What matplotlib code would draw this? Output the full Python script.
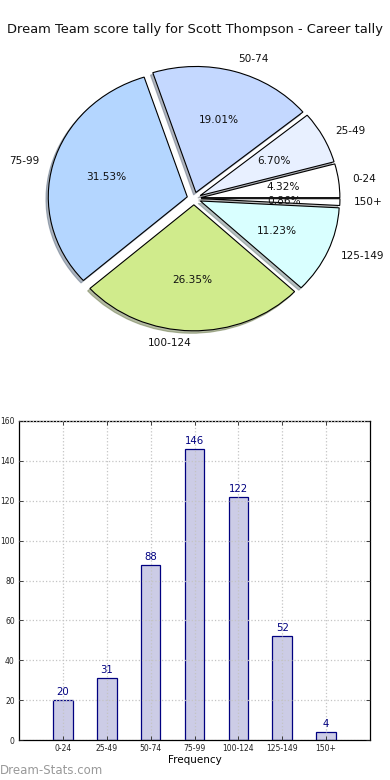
import matplotlib
matplotlib.use("Agg")
import matplotlib.pyplot as plt

categories = ["0-24", "25-49", "50-74", "75-99", "100-124", "125-149", "150+"]
counts = [20, 31, 88, 146, 122, 52, 4]
pie_colors = ["#ffffff", "#e8f0ff", "#c4d8ff", "#b4d6ff", "#d0eb8c", "#d9ffff", "#ffffff"]
title = "Dream Team score tally for Scott Thompson - Career tally"
yticks = [0, 20, 40, 60, 80, 100, 120, 140, 160]

fig = plt.figure(figsize=(3.9, 7.8), dpi=100)
fig.patch.set_facecolor("white")

fig.text(0.5, 1 - 30 / 780, title, ha="center", va="center", fontsize=9.4, color="#111111")

# Pie
axp = fig.add_axes([0.0519, 0.5436, 0.891, 0.4038])
wedges, texts, autotexts = axp.pie(
    counts, labels=categories, colors=pie_colors, explode=[0.05] * len(counts),
    autopct="%.2f%%", startangle=0,
    shadow=dict(ox=-0.012, oy=-0.014, shade=0.5),
    pctdistance=0.6, labeldistance=1.1,
    wedgeprops=dict(edgecolor="black", linewidth=0.8),
    textprops=dict(fontsize=7.6, color="#111111"))
axp.set_aspect("auto")
axp.set_xlim(-1.25, 1.25)
axp.set_ylim(-1.25, 1.25)

# Bars
axb = fig.add_axes([19 / 390, 1 - 740 / 780, 351 / 390, 319 / 780])
x = list(range(len(categories)))
bars = axb.bar(x, counts, width=0.45, color="#cccce6", edgecolor="#000080", linewidth=0.9)
for xi, c in zip(x, counts):
    axb.text(xi, c + 1.5, str(c), ha="center", va="bottom", fontsize=7.3, color="#000080")
axb.set_xlim(-1, 7)
axb.set_ylim(0, 160)
axb.set_xticks(x)
axb.set_xticklabels(categories, fontsize=5.5)
axb.set_yticks(yticks)
axb.set_yticklabels([str(v) for v in yticks], fontsize=5.5)
axb.tick_params(direction="in", length=3, width=0.6, top=True, right=True, pad=3, colors="#222222")
axb.grid(True, linestyle=":", color="#c4c4c4", linewidth=0.9)
axb.set_axisbelow(False)
axb.set_xlabel("Frequency", fontsize=7.5, labelpad=1)
for s in axb.spines.values():
    s.set_linewidth(0.9)

fig.text(0.0, 1 - 770 / 780, "Dream-Stats.com", ha="left", va="center", fontsize=8.5, color="#999999")

fig.savefig("out.png", dpi=100, facecolor="white")
